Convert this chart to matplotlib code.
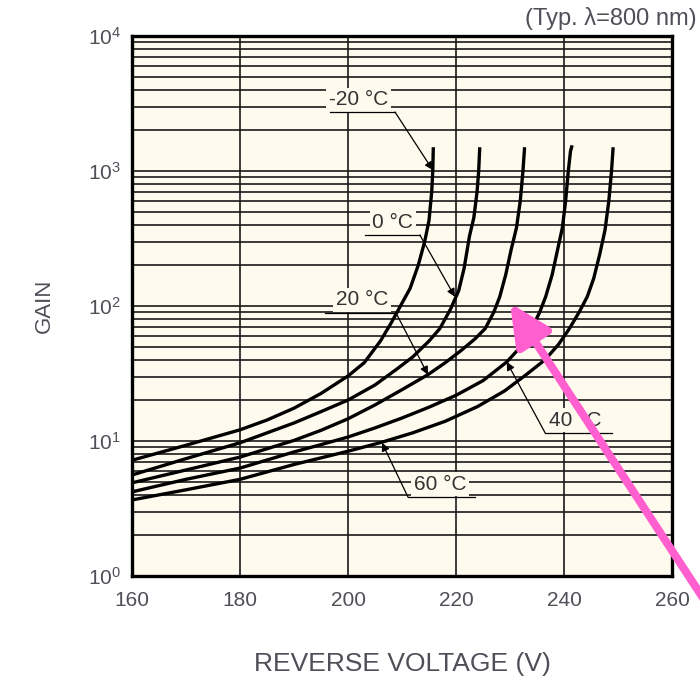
import matplotlib
matplotlib.use("Agg")
import matplotlib.pyplot as plt
import numpy as np
from matplotlib.ticker import FixedLocator, LogLocator, NullFormatter

plt.rcParams["font.family"] = ["Liberation Sans", "DejaVu Sans"]
plt.rcParams["mathtext.default"] = "regular"

# gain vs reverse voltage
temps = ["-20 °C", "0 °C", "20 °C", "40 °C", "60 °C"]
volt_m20 = [160, 170, 180, 185, 190, 195, 200, 203, 206, 208, 210, 211.5, 213, 214.2, 215, 215.5, 215.7, 215.8]
gain_m20 = [7.2, 9.3, 12.1, 14.3, 17.5, 22.5, 30.3, 38, 55, 75, 105, 135, 200, 300, 430, 700, 1000, 1500]
volt_0 = [160, 170, 180, 190, 195, 200, 205, 209, 212, 215, 217, 219, 220.5, 221.5, 222.5, 223.3, 223.9, 224.2, 224.4]
gain_0 = [5.6, 7.4, 9.7, 13.6, 16.5, 20.1, 26, 34, 42, 55, 68, 95, 130, 190, 330, 450, 700, 1000, 1500]
volt_20 = [160, 170, 180, 190, 195, 200, 205, 210, 214.8, 218, 221, 223.5, 225.4, 227, 228.1, 229.2, 230.2,
           231.2, 231.9, 232.4, 232.7]
gain_20 = [4.9, 6.1, 7.6, 10.1, 12, 14.6, 18.5, 24, 31, 38, 47, 57, 68, 90, 117, 170, 260,
           380, 600, 1000, 1500]
volt_40 = [160, 170, 180, 190, 195, 200, 205, 210, 215, 220, 225, 229.4, 232, 234, 235.5, 236.6, 237.8,
           238.8, 239.7, 240.3, 240.8, 241.2, 241.5]
gain_40 = [4.2, 5.2, 6.3, 8.3, 9.4, 10.7, 12.5, 14.8, 17.8, 21.8, 28, 38.5, 50, 68, 90, 117, 170,
           260, 380, 600, 1000, 1400, 1550]
volt_60 = [160, 170, 180, 190, 195, 200, 206.3, 212, 218, 224, 229, 233, 236.5, 239, 241, 242.8, 244.3,
           245.5, 246.6, 247.6, 248.3, 248.8, 249.1]
gain_60 = [3.66, 4.35, 5.2, 6.7, 7.5, 8.4, 9.8, 11.5, 14, 18, 23.5, 31, 40, 52, 68, 90, 117,
           160, 240, 366, 600, 1000, 1500]

# label text position, leader line (x0, x1, y), which end the arrow leaves from, arrow tip
label_pos = [(201.9, 3357), (208.3, 419), (202.6, 111), (242.0, 14.3), (217.0, 4.8)]
leader = [(196.7, 208.7, 2735), (203.1, 213.3, 336), (195.7, 208.9, 88.7),
          (236.5, 248.9, 11.5), (211.1, 223.5, 3.85)]
leader_end = [1, 1, 1, 0, 0]
arrow_tip = [(215.7, 1016), (219.8, 117), (214.8, 31), (229.4, 38.5), (206.3, 9.7)]

x_ticks = [160, 180, 200, 220, 240, 260]

cream = "#fffaee"
txt = "#4f4f58"

fig = plt.figure(figsize=(7.0, 6.8), dpi=100)
ax = fig.add_axes([132 / 700, 104 / 680, 540 / 700, 540 / 680])
ax.set_facecolor(cream)
ax.set_yscale("log")
ax.set_xlim(160, 260)
ax.set_ylim(1, 1e4)

ax.xaxis.set_major_locator(FixedLocator(x_ticks))
ax.yaxis.set_major_locator(LogLocator(base=10, numticks=10))
ax.yaxis.set_minor_locator(LogLocator(base=10, subs=np.arange(2, 10), numticks=20))
ax.yaxis.set_minor_formatter(NullFormatter())
ax.grid(True, which="major", axis="both", color="#1a1a1a", lw=1.2)
ax.grid(True, which="minor", axis="y", color="#1a1a1a", lw=1.2)
ax.tick_params(which="both", length=0, labelsize=15, labelcolor=txt)
ax.tick_params(axis="x", pad=11)
ax.tick_params(axis="y", pad=8)
for sp in ax.spines.values():
    sp.set_linewidth(2.4)
    sp.set_color("black")
ax.set_axisbelow(True)

curves = [(volt_m20, gain_m20), (volt_0, gain_0), (volt_20, gain_20),
          (volt_40, gain_40), (volt_60, gain_60)]
for v, g in curves:
    ax.plot(v, g, color="black", lw=2.4, solid_joinstyle="round", solid_capstyle="butt", zorder=3)

for name, (tx, ty), (x0, x1, ly), end, tip in zip(temps, label_pos, leader, leader_end, arrow_tip):
    ax.text(tx, ty, name, fontsize=15, color="#333333", ha="center", va="center", zorder=4,
            bbox=dict(facecolor=cream, edgecolor="none", pad=2))
    ax.plot([x0, x1], [ly, ly], color="black", lw=0.9, zorder=4)
    start = (x1, ly) if end else (x0, ly)
    ax.annotate("", xy=tip, xytext=start, zorder=5,
                arrowprops=dict(arrowstyle="-|>", color="black", lw=0.9,
                                mutation_scale=12, shrinkA=0, shrinkB=0))

ax.set_xlabel("REVERSE VOLTAGE (V)", fontsize=19, color=txt, labelpad=30)
ax.set_ylabel("GAIN", fontsize=16, color=txt, labelpad=24)
ax.text(1.045, 1.012, "(Typ. λ=800 nm)", transform=ax.transAxes, ha="right", va="bottom",
        fontsize=17, color=txt)

# highlighter arrow drawn over the chart
ax.annotate("", xy=(230, 105), xytext=(268, 0.5), annotation_clip=False, zorder=10,
            arrowprops=dict(arrowstyle="-|>,head_length=1.25,head_width=0.6", color="#ff5fcf",
                            lw=5.8, mutation_scale=20, shrinkA=0, shrinkB=0))

fig.savefig("out.png", dpi=100)
